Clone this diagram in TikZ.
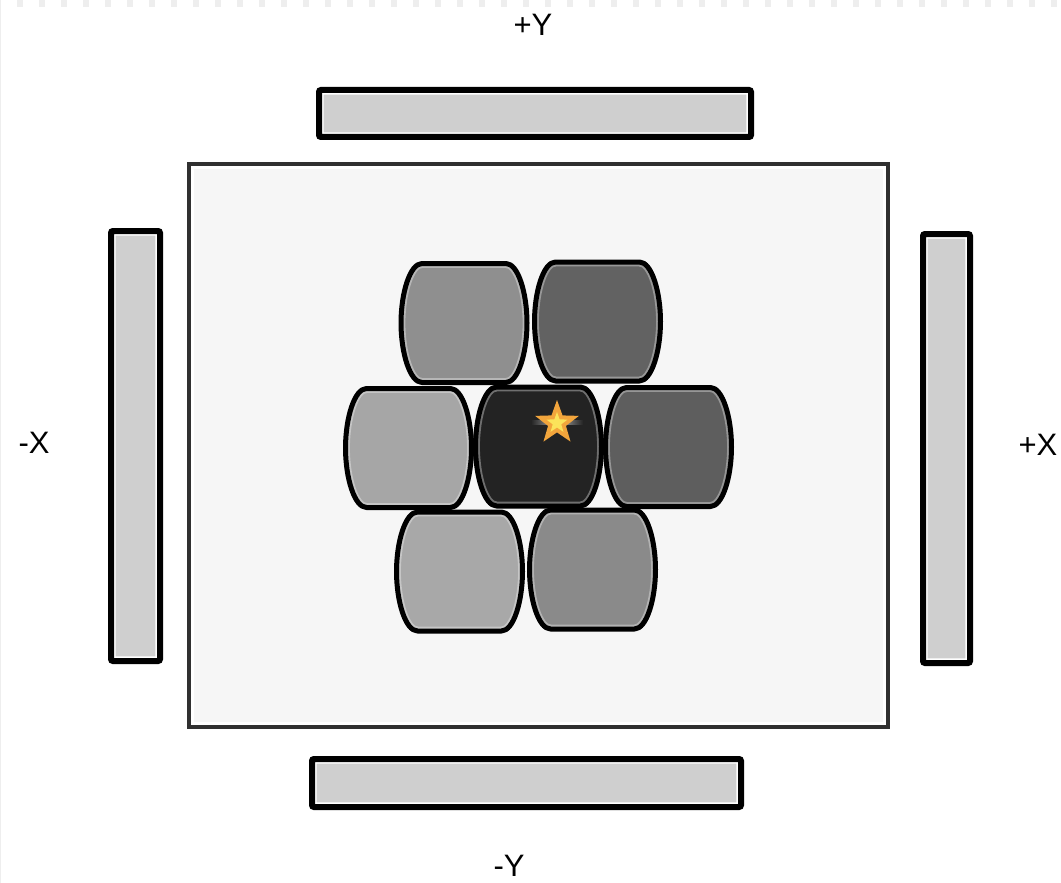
\documentclass[tikz,border=0pt]{standalone}
\usepackage{fontspec}
\setmainfont{Liberation Sans}
\usepackage{xcolor}
\usepackage{tikz}
\usetikzlibrary{shapes.geometric}
\definecolor{panelfill}{RGB}{246,246,246}
\definecolor{panelline}{RGB}{48,48,48}
\definecolor{barfill}{RGB}{207,207,207}
\definecolor{celltl}{RGB}{143,143,143}
\definecolor{celltr}{RGB}{98,98,98}
\definecolor{cellml}{RGB}{166,166,166}
\definecolor{cellmc}{RGB}{35,35,35}
\definecolor{cellmr}{RGB}{94,94,94}
\definecolor{cellbl}{RGB}{168,168,168}
\definecolor{cellbr}{RGB}{138,138,138}
\definecolor{starout}{RGB}{242,165,60}
\definecolor{starin}{RGB}{251,227,90}
\definecolor{edgegray}{RGB}{238,238,238}
\tikzset{
  panel/.style={rectangle,draw=panelline,line width=2pt,fill=panelfill,inner sep=0pt,
    path picture={\draw[white,line width=5pt] (path picture bounding box.south west)
      rectangle (path picture bounding box.north east);}},
  bar/.style={rectangle,draw=black,line width=3pt,fill=barfill,inner sep=0pt,rounded corners=1pt,
    path picture={\draw[white,line width=4.6pt] (path picture bounding box.south west)
      rectangle (path picture bounding box.north east);}},
  axislabel/.style={font=\fontsize{15.5}{18}\selectfont,inner sep=0pt},
  barrel/.style={insert path={(-42,-59.5) -- (42,-59.5)
      .. controls (54,-59.5) and (63,-30) .. (63,0)
      .. controls (63,30) and (54,59.5) .. (42,59.5) -- (-42,59.5)
      .. controls (-54,59.5) and (-63,30) .. (-63,0)
      .. controls (-63,-30) and (-54,-59.5) .. cycle}},
  cell/.pic={
    \fill[pic actions,barrel];
    \begin{scope}
      \clip[barrel];
      \draw[white,opacity=.35,line width=4.4pt,barrel];
    \end{scope}
    \draw[black,line width=2.5pt,line join=round,barrel];
  },
  starmark/.style={star,star points=5,star point ratio=2.45,inner sep=0pt,draw=none}
}

\begin{document}
\begin{tikzpicture}[x=0.5pt,y=-0.5pt]
  \useasboundingbox (0,0) rectangle (1061,883);
  \draw[edgegray,line width=3.5pt,dash pattern=on 3pt off 8pt] (17,3.5) -- (1061,3.5);
  \draw[edgegray,line width=0.7pt] (0.7,0) -- (0.7,883);

  \node[panel,minimum width=349.5pt,minimum height=281.5pt] (plate) at (538.5,445.5) {};

  \node[bar,minimum width=216pt,minimum height=23.5pt] (barpy) at (535,113.5) {};
  \node[bar,minimum width=214.5pt,minimum height=24pt] (barny) at (526.5,783) {};
  \node[bar,minimum width=24.5pt,minimum height=215pt] (barnx) at (135.5,446) {};
  \node[bar,minimum width=23.5pt,minimum height=214.5pt] (barpx) at (946.5,448.5) {};

  \node[axislabel] (lpy) at (533,25) {+Y};
  \node[axislabel] (lny) at (509,866) {-Y};
  \node[axislabel] (lnx) at (34,443) {-X};
  \node[axislabel] (lpx) at (1038,445) {+X};

  \pic[fill=celltl] (tl) at (464,323) {cell};
  \pic[fill=celltr] (tr) at (597.5,321.5) {cell};
  \pic[fill=cellml] (ml) at (408.5,448) {cell};
  \pic[fill=cellmc] (mc) at (538.5,446.5) {cell};
  \pic[fill=cellmr] (mr) at (668.5,447) {cell};
  \pic[fill=cellbl] (bl) at (459.5,571.5) {cell};
  \pic[fill=cellbr] (br) at (592.5,569.5) {cell};

  \shade[left color=cellmc,right color=cellmc,middle color=gray!60] (531,420.5) rectangle (583,424);
  \node[starmark,fill=starout,minimum size=23pt] (spot) at (557,423) {};
  \node[starmark,fill=starin,minimum size=11pt] (spotcore) at (spot.center) {};
\end{tikzpicture}
\end{document}
